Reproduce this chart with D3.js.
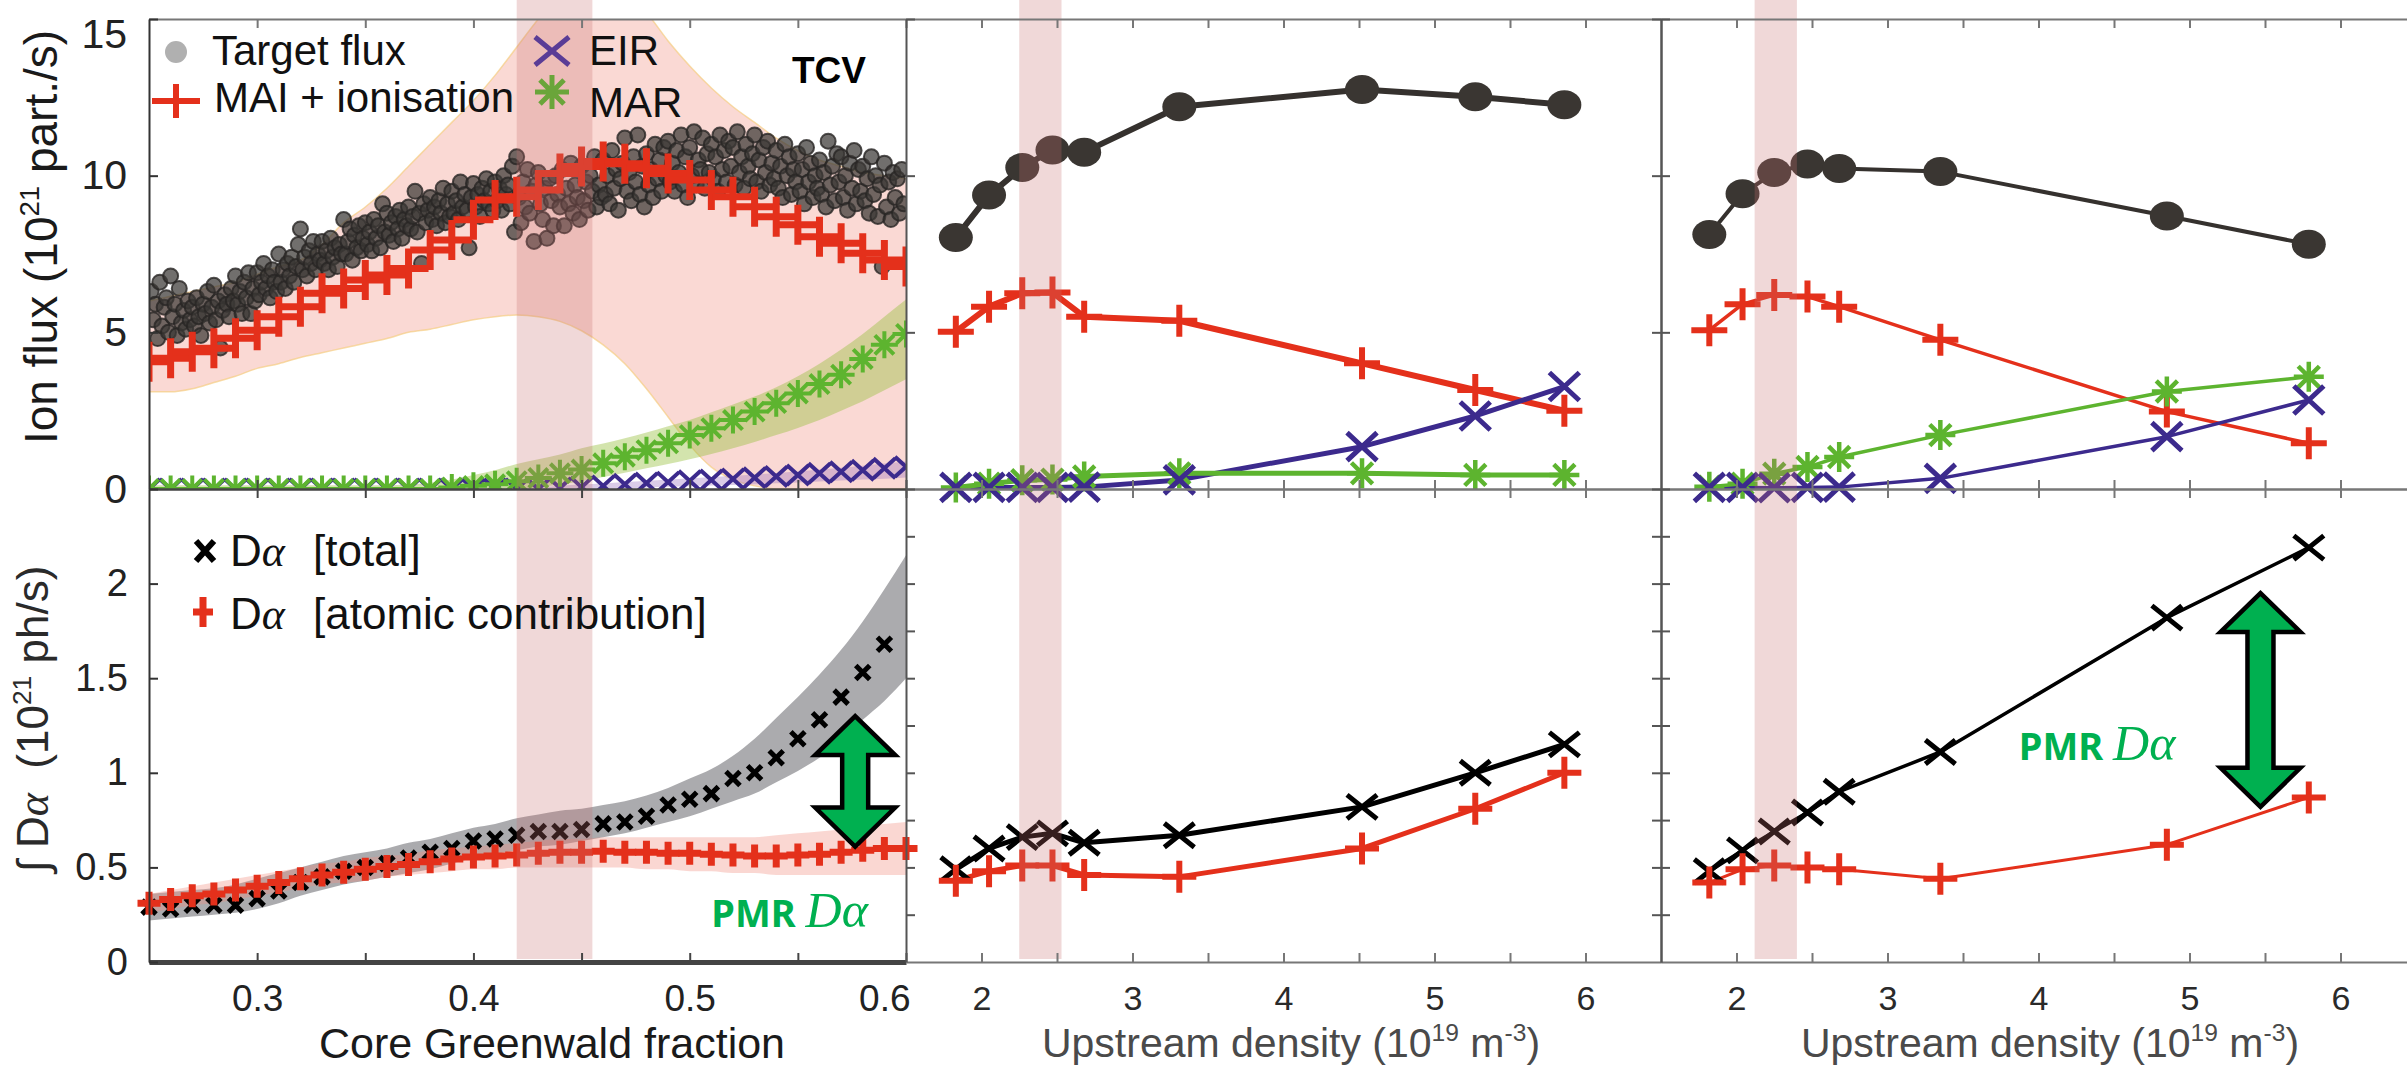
<!DOCTYPE html>
<html>
<head>
<meta charset="utf-8">
<title>Ion flux and D-alpha vs density</title>
<script src="https://cdn.jsdelivr.net/npm/d3@7"></script>
<style>
  html, body { margin: 0; padding: 0; background: #fff; }
  svg { display: block; font-family: "Liberation Sans", Arial, sans-serif; }
  text { white-space: pre; }
</style>
</head>
<body>
<svg width="2407" height="1066"></svg>
<script>
// ---------- left column: scan in core Greenwald fraction ----------
const gwFrac = [0.25,0.26,0.27,0.28,0.29,0.30,0.31,0.32,0.33,0.34,0.35,0.36,0.37,0.38,0.39,0.40,0.41,0.42,
                0.43,0.44,0.45,0.46,0.47,0.48,0.49,0.50,0.51,0.52,0.53,0.54,0.55,0.56,0.57,0.58,0.59,0.60];

const maiIon = [4.06,4.17,4.38,4.49,4.81,5.07,5.5,5.82,6.25,6.4,6.67,6.83,7.04,7.63,7.95,8.59,9.22,9.33,
                9.54,10.07,10.29,10.45,10.38,10.24,10.07,9.86,9.54,9.33,9.01,8.69,8.43,8.05,7.84,7.52,7.31,7.1];
const maiLo = [3.1,3.1,3.2,3.4,3.6,3.85,4.0,4.2,4.35,4.5,4.65,4.8,5.0,5.1,5.25,5.4,5.5,5.55,
               5.5,5.35,5.05,4.6,4.0,3.2,2.3,1.4,0.7,0.3,0.1,0,0,0,0,0,0,0];
const maiHi = [6.0,6.15,6.3,6.45,6.6,6.85,7.1,7.3,7.8,8.5,9.0,9.6,10.3,11.0,11.7,12.4,13.2,14.1,
               15.0,15.8,16.3,16.3,15.8,15.2,14.3,13.5,12.8,12.2,11.7,11.2,10.8,10.5,10.3,10.1,10.0,9.9];

const mar = [0,0,0,0,0,0,0,0,0,0,0,0,0,0,0.05,0.1,0.15,0.25,
             0.35,0.5,0.62,0.82,1.03,1.24,1.46,1.72,1.94,2.2,2.47,2.74,3.05,3.35,3.65,4.15,4.6,4.95];
const marLo = [0,0,0,0,0,0,0,0,0,0,0,0,0,0,0,0,0,0,
               0.05,0.15,0.25,0.38,0.52,0.66,0.8,0.95,1.12,1.3,1.5,1.72,1.95,2.2,2.5,2.8,3.15,3.5];
const marHi = [0.12,0.12,0.12,0.12,0.12,0.12,0.12,0.12,0.12,0.12,0.12,0.12,0.15,0.2,0.3,0.45,0.6,0.8,
               0.95,1.1,1.3,1.45,1.62,1.8,2.0,2.2,2.45,2.7,2.95,3.25,3.6,4.0,4.45,4.95,5.5,6.05];

const eir = [0,0,0,0,0,0,0,0,0,0,0,0,0,0,0,0,0,0,
             0,0.03,0.06,0.1,0.15,0.19,0.22,0.26,0.29,0.32,0.36,0.40,0.45,0.50,0.55,0.60,0.66,0.71];
const eirLo = [0,0,0,0,0,0,0,0,0,0,0,0,0,0,0,0,0,0,
               0,0,0,0,0.02,0.05,0.07,0.09,0.11,0.13,0.15,0.18,0.21,0.24,0.27,0.30,0.33,0.37];
const eirHi = [0.05,0.05,0.05,0.05,0.05,0.05,0.05,0.05,0.05,0.05,0.05,0.05,0.05,0.05,0.05,0.05,0.05,0.05,
               0.05,0.1,0.14,0.18,0.22,0.26,0.30,0.34,0.38,0.42,0.46,0.51,0.56,0.62,0.68,0.74,0.81,0.88];

// measured target flux (Greenwald fraction, 1e21 part/s)
const targetFlux = [
  [0.251,6.3],[0.252,5.4],[0.253,5.9],[0.254,4.8],[0.255,6.6],[0.256,5.2],[0.257,5.8],[0.258,6.1],[0.259,5.0],
  [0.260,6.8],[0.261,5.5],[0.262,5.9],[0.263,4.9],[0.264,6.4],[0.265,5.3],[0.266,5.7],[0.267,5.1],[0.268,6.0],[0.269,5.4],
  [0.270,5.8],[0.271,5.2],[0.272,6.1],[0.273,5.5],[0.274,4.9],[0.275,5.9],[0.276,5.6],[0.277,6.3],[0.278,5.3],[0.279,5.8],
  [0.280,6.5],[0.281,5.4],[0.282,6.0],[0.283,4.5],[0.284,5.7],[0.285,6.2],[0.286,5.9],[0.287,5.5],[0.288,6.4],[0.289,6.0],
  [0.290,6.8],[0.291,5.9],[0.292,6.3],[0.293,5.6],[0.294,6.6],[0.295,6.1],[0.296,6.9],[0.297,5.6],[0.298,6.4],[0.299,6.0],
  [0.300,6.9],[0.301,6.2],[0.302,6.6],[0.303,7.2],[0.304,6.4],[0.305,6.8],[0.306,6.1],[0.307,7.0],[0.308,6.6],[0.309,6.3],
  [0.310,7.5],[0.311,6.6],[0.312,7.0],[0.313,6.4],[0.314,7.2],[0.315,6.8],[0.316,7.4],[0.317,6.6],[0.318,7.1],[0.319,7.8],
  [0.320,8.3],[0.321,7.0],[0.322,7.4],[0.323,6.8],[0.324,7.6],[0.325,7.2],[0.326,7.9],[0.327,7.0],[0.328,7.5],[0.329,7.3],
  [0.330,7.9],[0.331,7.2],[0.332,7.6],[0.333,7.0],[0.334,8.0],[0.335,7.4],[0.336,7.7],[0.337,7.1],[0.338,7.8],[0.339,7.5],
  [0.340,8.6],[0.341,7.5],[0.342,7.9],[0.343,8.3],[0.344,7.3],[0.345,8.1],[0.346,7.7],[0.347,8.4],[0.348,7.6],[0.349,8.0],
  [0.350,8.5],[0.351,7.8],[0.352,8.2],[0.353,7.6],[0.354,8.6],[0.355,8.0],[0.356,8.4],[0.357,7.7],[0.358,9.1],[0.359,8.2],
  [0.360,8.8],[0.361,8.1],[0.362,8.5],[0.363,7.9],[0.364,8.7],[0.365,8.3],[0.366,8.9],[0.367,8.0],[0.368,8.6],[0.369,8.4],
  [0.370,9.0],[0.371,8.3],[0.372,8.7],[0.373,9.5],[0.374,8.2],[0.375,8.8],[0.376,7.2],[0.377,9.1],[0.378,8.5],[0.379,8.9],
  [0.380,9.3],[0.381,8.6],[0.382,9.0],[0.383,8.4],[0.384,9.2],[0.385,8.8],[0.386,9.6],[0.387,8.5],[0.388,9.1],[0.389,8.7],
  [0.390,9.5],[0.391,8.8],[0.392,9.2],[0.393,8.6],[0.394,9.8],[0.395,9.0],[0.396,9.4],[0.397,8.9],[0.398,7.7],[0.399,9.3],
  [0.400,9.75],[0.401,9.0],[0.402,9.4],[0.403,8.7],[0.404,9.6],[0.405,9.2],[0.406,9.9],[0.407,9.1],[0.408,9.5],[0.409,8.9],
  [0.410,9.8],[0.411,9.2],[0.412,9.6],[0.413,8.9],[0.414,10.0],[0.415,9.4],[0.416,9.7],[0.417,9.1],[0.418,10.3],[0.419,8.2],
  [0.420,10.6],[0.421,9.3],[0.422,8.5],[0.423,9.8],[0.424,9.0],[0.425,10.2],[0.426,8.8],[0.427,9.5],[0.428,7.9],[0.429,9.7],
  [0.430,10.1],[0.431,9.1],[0.432,8.6],[0.433,9.6],[0.434,8.0],[0.435,9.9],[0.436,9.2],[0.437,8.4],[0.438,10.0],[0.439,9.4],
  [0.440,9.0],[0.441,10.2],[0.442,8.4],[0.443,9.6],[0.444,9.1],[0.445,10.4],[0.446,8.8],[0.447,9.7],[0.448,9.3],[0.449,8.6],
  [0.450,10.3],[0.451,9.2],[0.452,9.8],[0.453,8.9],[0.454,10.0],[0.455,9.5],[0.456,10.6],[0.457,9.0],[0.458,9.7],[0.459,9.3],
  [0.460,10.5],[0.461,9.4],[0.462,10.0],[0.463,9.1],[0.464,10.8],[0.465,9.6],[0.466,10.2],[0.467,8.9],[0.468,9.9],[0.469,10.4],
  [0.470,11.2],[0.471,9.5],[0.472,10.1],[0.473,9.2],[0.474,10.6],[0.475,9.8],[0.476,11.3],[0.477,9.4],[0.478,10.3],[0.479,9.0],
  [0.480,10.7],[0.481,9.7],[0.482,10.2],[0.483,9.3],[0.484,11.0],[0.485,9.9],[0.486,10.5],[0.487,9.5],[0.488,10.9],[0.489,10.0],
  [0.490,11.1],[0.491,9.8],[0.492,10.4],[0.493,9.5],[0.494,10.8],[0.495,10.1],[0.496,11.3],[0.497,9.7],[0.498,10.6],[0.499,9.3],
  [0.500,10.9],[0.501,10.0],[0.502,11.4],[0.503,9.7],[0.504,10.5],[0.505,10.2],[0.506,11.2],[0.507,9.6],[0.508,10.7],[0.509,10.1],
  [0.510,11.0],[0.511,9.9],[0.512,10.6],[0.513,9.5],[0.514,11.3],[0.515,10.2],[0.516,10.8],[0.517,9.8],[0.518,11.1],[0.519,10.3],
  [0.520,10.9],[0.521,9.7],[0.522,11.4],[0.523,10.1],[0.524,10.6],[0.525,9.6],[0.526,11.0],[0.527,10.3],[0.528,9.9],[0.529,10.7],
  [0.530,11.3],[0.531,9.8],[0.532,10.5],[0.533,9.5],[0.534,10.9],[0.535,10.1],[0.536,11.1],[0.537,9.7],[0.538,10.4],[0.539,9.9],
  [0.540,10.8],[0.541,9.6],[0.542,10.3],[0.543,9.3],[0.544,11.0],[0.545,10.0],[0.546,10.6],[0.547,9.4],[0.548,10.2],[0.549,9.8],
  [0.550,10.7],[0.551,9.5],[0.552,10.2],[0.553,9.1],[0.554,10.9],[0.555,9.8],[0.556,10.4],[0.557,9.3],[0.558,10.0],[0.559,9.6],
  [0.560,10.5],[0.561,9.4],[0.562,10.1],[0.563,9.0],[0.564,11.1],[0.565,9.7],[0.566,10.3],[0.567,9.2],[0.568,10.7],[0.569,9.8],
  [0.570,10.6],[0.571,9.3],[0.572,10.0],[0.573,8.9],[0.574,10.4],[0.575,9.6],[0.576,10.8],[0.577,9.1],[0.578,10.2],[0.579,9.5],
  [0.580,10.3],[0.581,9.2],[0.582,9.9],[0.583,8.8],[0.584,10.6],[0.585,9.4],[0.586,10.0],[0.587,8.7],[0.588,9.7],[0.589,7.1],
  [0.590,10.4],[0.591,9.0],[0.592,9.8],[0.593,8.6],[0.594,10.1],[0.595,9.3],[0.596,9.9],[0.597,8.8],[0.598,10.2],[0.599,9.1]
];

// integrated D-alpha (1e21 ph/s); total has no point at 0.60
const daTotal = [0.29,0.28,0.30,0.30,0.30,0.335,0.375,0.42,0.45,0.48,0.50,0.52,0.55,0.58,0.60,0.64,0.65,0.67,
                 0.69,0.69,0.70,0.73,0.74,0.77,0.83,0.86,0.89,0.97,1.00,1.08,1.18,1.28,1.40,1.53,1.68];
const totLo = [0.22,0.23,0.24,0.25,0.26,0.28,0.31,0.35,0.38,0.41,0.43,0.45,0.47,0.49,0.52,0.55,0.57,0.59,
               0.61,0.62,0.64,0.66,0.68,0.71,0.74,0.77,0.81,0.85,0.89,0.95,1.01,1.08,1.17,1.28,1.38,1.50];
const totHi = [0.36,0.37,0.38,0.39,0.41,0.44,0.47,0.50,0.53,0.56,0.58,0.60,0.63,0.65,0.68,0.71,0.73,0.76,
               0.78,0.80,0.81,0.83,0.85,0.88,0.92,0.97,1.02,1.09,1.18,1.29,1.40,1.52,1.65,1.80,1.97,2.15];
const daAtomic = [0.31,0.33,0.35,0.36,0.38,0.40,0.42,0.44,0.46,0.475,0.49,0.505,0.515,0.53,0.545,0.555,0.56,0.565,
                  0.575,0.58,0.58,0.585,0.58,0.58,0.575,0.575,0.57,0.565,0.56,0.56,0.565,0.57,0.58,0.59,0.60,0.60];
const atomLo = [0.26,0.28,0.30,0.31,0.33,0.35,0.37,0.39,0.41,0.42,0.43,0.45,0.46,0.47,0.48,0.49,0.49,0.50,
                0.50,0.50,0.50,0.50,0.50,0.49,0.49,0.48,0.48,0.47,0.47,0.46,0.46,0.46,0.46,0.46,0.46,0.46];
const atomHi = [0.36,0.38,0.40,0.42,0.44,0.46,0.48,0.50,0.52,0.53,0.55,0.56,0.57,0.59,0.60,0.61,0.62,0.63,
                0.64,0.65,0.65,0.66,0.66,0.66,0.66,0.66,0.66,0.66,0.66,0.67,0.68,0.69,0.70,0.72,0.73,0.74];

// ---------- middle column: upstream density scan A ----------
const nUpA    = [1.83,2.05,2.27,2.47,2.68,3.31,4.52,5.27,5.86];
const fluxA   = [8.03,9.38,10.26,10.82,10.75,12.2,12.75,12.52,12.26];
const maiA    = [5.02,5.82,6.25,6.27,5.5,5.37,4.01,3.16,2.5];
const eirA    = [0.05,0.05,0.05,0.05,0.06,0.29,1.35,2.33,3.27];
const marA    = [0.05,0.17,0.28,0.3,0.4,0.5,0.5,0.45,0.45];
const daTotA  = [0.49,0.60,0.66,0.68,0.63,0.67,0.82,1.0,1.15];
const daAtomA = [0.43,0.48,0.51,0.51,0.46,0.45,0.60,0.81,1.0];

// ---------- right column: upstream density scan B ----------
const nUpB    = [1.82,2.04,2.25,2.47,2.68,3.35,4.85,5.79];
const fluxB   = [8.12,9.42,10.1,10.37,10.23,10.13,8.71,7.81];
const maiB    = [5.07,5.9,6.19,6.14,5.82,4.76,2.47,1.46];
const eirB    = [0.05,0.05,0.04,0.05,0.06,0.34,1.67,2.84];
const marB    = [0.07,0.17,0.49,0.7,1.02,1.72,3.11,3.58];
const daTotB  = [0.48,0.59,0.69,0.79,0.90,1.11,1.82,2.19];
const daAtomB = [0.42,0.49,0.51,0.50,0.49,0.44,0.62,0.87];

// highlighted (roll-over) windows
const bandGw = [0.42, 0.455], bandA = [2.25, 2.53], bandB = [2.12, 2.40];
// PMR arrows: [x, y top, y bottom]
const arrowGw = [0.5765, 1.30, 0.61], arrowB = [5.47, 1.95, 0.82];

// ticks
const gwTicks = [0.3,0.35,0.4,0.45,0.5,0.55,0.6], gwLabels = [0.3,0.4,0.5,0.6];
const upTicks = [2,2.5,3,3.5,4,4.5,5,5.5,6], upLabels = [2,3,4,5,6];
const fluxTicks = [0,5,10,15];
const daTicksGw = [0,0.5,1,1.5,2];
const daTicksUp = [0.25,0.5,0.75,1,1.25,1.5,1.75,2,2.25];

// ---------- scales ----------
const svg = d3.select("svg");
const xGw  = d3.scaleLinear().domain([0.25, 0.6]).range([149, 906]);
const xUpA = d3.scaleLinear().domain([1.5, 6.5]).range([906, 1661]);
const xUpB = d3.scaleLinear().domain([1.5, 6.5]).range([1661, 2416]);
const yFlux = d3.scaleLinear().domain([0, 15]).range([489, 19]);
const yDa   = d3.scaleLinear().domain([0, 2.5]).range([962, 489]);

const RED = "#e4301b", PURPLE = "#3c2a8d", GREEN = "#5db42f", DARK = "#3a3632", ARROW = "#00b050";

// marker shapes
const plus  = (w, h) => `M${-w/2},0H${w/2}M0,${-h/2}V${h/2}`;
const times = (w, h) => `M${-w/2},${-h/2}L${w/2},${h/2}M${-w/2},${h/2}L${w/2},${-h/2}`;
const star  = s => { const r = s / 2, d = r * 0.707;
  return `M0,${-r}V${r}M${-r},0H${r}M${-d},${-d}L${d},${d}M${-d},${d}L${d},${-d}`; };

function markers(g, pts, xs, ys, shape, color, width) {
  g.append("g").selectAll("path").data(pts).join("path")
    .attr("transform", d => `translate(${xs(d[0])},${ys(d[1])})`)
    .attr("d", shape).attr("fill", "none")
    .attr("stroke", color).attr("stroke-width", width);
}
function polyline(g, pts, xs, ys, color, width) {
  g.append("path").datum(pts)
    .attr("d", d3.line().x(d => xs(d[0])).y(d => ys(d[1])))
    .attr("fill", "none").attr("stroke", color).attr("stroke-width", width)
    .attr("stroke-linejoin", "round");
}
function band(g, xsArr, lo, hi, xs, ys, fill, edge) {
  const pts = xsArr.map((x, i) => ({x, lo: lo[i], hi: hi[i]}));
  g.append("path").datum(pts)
    .attr("d", d3.area().x(d => xs(d.x)).y0(d => ys(d.lo)).y1(d => ys(d.hi)).curve(d3.curveMonotoneX))
    .attr("fill", fill);
  if (edge) {
    ["lo", "hi"].forEach(k => g.append("path").datum(pts)
      .attr("d", d3.line().x(d => xs(d.x)).y(d => ys(d[k])).curve(d3.curveMonotoneX))
      .attr("fill", "none").attr("stroke", edge).attr("stroke-width", 1.5));
  }
}
function dblArrow(g, a, xs, ys) {
  const cx = xs(a[0]), t = ys(a[1]), b = ys(a[2]), hh = 39, hw = 40, sw = 13;
  const p = [[cx,t],[cx+hw,t+hh],[cx+sw,t+hh],[cx+sw,b-hh],[cx+hw,b-hh],[cx,b],
             [cx-hw,b-hh],[cx-sw,b-hh],[cx-sw,t+hh],[cx-hw,t+hh]];
  g.append("path").attr("d", "M" + p.join("L") + "Z")
    .attr("fill", ARROW).attr("stroke", "#000").attr("stroke-width", 4.5)
    .attr("stroke-linejoin", "miter");
}
function pmrLabel(g, x, y) {
  const t = g.append("text").attr("x", x).attr("y", y).attr("fill", ARROW);
  t.append("tspan").attr("font-family", "'Noto Sans', 'Open Sans', sans-serif")
    .attr("font-weight", "bold").attr("font-size", 38).text("PMR ");
  t.append("tspan").attr("font-family", "'Liberation Serif', serif")
    .attr("font-style", "italic").attr("font-size", 50).text("Dα");
}
function vband(g, b, xs) {
  g.append("rect").attr("x", xs(b[0])).attr("width", xs(b[1]) - xs(b[0]))
    .attr("y", 0).attr("height", yDa(0) - 3)
    .attr("fill", "rgb(200,112,112)").attr("fill-opacity", 0.27);
}

// ---------- left column ----------
svg.append("defs").append("clipPath").attr("id", "clipGw")
  .append("rect").attr("x", xGw(0.25)).attr("y", yFlux(15))
  .attr("width", xGw(0.6) - xGw(0.25)).attr("height", yFlux(0) - yFlux(15));

const gTop = svg.append("g").attr("clip-path", "url(#clipGw)");
band(gTop, gwFrac, maiLo, maiHi, xGw, yFlux, "rgba(240,140,125,0.33)", "rgba(245,205,130,0.7)");
band(gTop, gwFrac, eirLo, eirHi, xGw, yFlux, "rgba(150,110,190,0.35)");
band(gTop, gwFrac, marLo, marHi, xGw, yFlux, "rgba(150,190,60,0.42)");
gTop.append("g").selectAll("circle").data(targetFlux).join("circle")
  .attr("cx", d => xGw(d[0])).attr("cy", d => yFlux(d[1])).attr("r", 7.5)
  .attr("fill", "rgb(58,55,52)").attr("fill-opacity", 0.72)
  .attr("stroke", "rgb(40,38,36)").attr("stroke-opacity", 0.8).attr("stroke-width", 2);
markers(gTop, d3.zip(gwFrac, maiIon), xGw, yFlux, plus(40, 40), RED, 7);
markers(gTop, d3.zip(gwFrac, eir), xGw, yFlux, times(22, 20), PURPLE, 4);
markers(gTop, d3.zip(gwFrac, mar), xGw, yFlux, star(27), GREEN, 4);

const gBot = svg.append("g");
band(gBot, gwFrac, totLo, totHi, xGw, yDa, "rgba(115,115,120,0.6)");
band(gBot, gwFrac, atomLo, atomHi, xGw, yDa, "rgba(240,140,125,0.35)");
markers(gBot, d3.zip(gwFrac, daTotal), xGw, yDa, times(14, 14), "#000", 5);
markers(gBot, d3.zip(gwFrac, daAtomic), xGw, yDa, plus(23, 23), RED, 7);

// ---------- middle / right columns ----------
function densityPanel(xs, n, flux, mai, eirV, marV, tot, atom, w) {
  const g = svg.append("g");
  polyline(g, d3.zip(n, flux), xs, yFlux, "#35312e", w.flux);
  polyline(g, d3.zip(n, mai), xs, yFlux, RED, w.mai);
  polyline(g, d3.zip(n, eirV), xs, yFlux, PURPLE, w.eir);
  polyline(g, d3.zip(n, marV), xs, yFlux, GREEN, w.mar);
  g.append("g").selectAll("ellipse").data(d3.zip(n, flux)).join("ellipse")
    .attr("cx", d => xs(d[0])).attr("cy", d => yFlux(d[1]))
    .attr("rx", 17).attr("ry", 14.5).attr("fill", DARK);
  markers(g, d3.zip(n, mai), xs, yFlux, plus(36, 32), RED, 6);
  markers(g, d3.zip(n, marV), xs, yFlux, star(30), GREEN, 4.5);
  markers(g, d3.zip(n, eirV), xs, yFlux, times(30, 28), PURPLE, 5);
  polyline(g, d3.zip(n, tot), xs, yDa, "#000", w.tot);
  polyline(g, d3.zip(n, atom), xs, yDa, RED, w.atom);
  markers(g, d3.zip(n, tot), xs, yDa, times(30, 24), "#000", 5);
  markers(g, d3.zip(n, atom), xs, yDa, plus(34, 32), RED, 6);
  return g;
}
densityPanel(xUpA, nUpA, fluxA, maiA, eirA, marA, daTotA, daAtomA,
  {flux: 6, mai: 6, eir: 5, mar: 5, tot: 5, atom: 5});
densityPanel(xUpB, nUpB, fluxB, maiB, eirB, marB, daTotB, daAtomB,
  {flux: 4, mai: 3.5, eir: 3.5, mar: 3.5, tot: 3.5, atom: 3});

// highlight windows on top (tinting what is below)
const gBands = svg.append("g");
vband(gBands, bandGw, xGw);
vband(gBands, bandA, xUpA);
vband(gBands, bandB, xUpB);

// PMR annotations
const gAnn = svg.append("g");
dblArrow(gAnn, arrowGw, xGw, yDa);
dblArrow(gAnn, arrowB, xUpB, yDa);
pmrLabel(gAnn, xGw(0.51), yDa(0.185));
pmrLabel(gAnn, xUpB(3.87), yDa(1.07));

// ---------- axes ----------
function axis(gen, tx, ty, color, opts = {}) {
  const g = svg.append("g").attr("transform", `translate(${tx},${ty})`).call(gen);
  g.attr("font-family", "'Liberation Sans', Arial, sans-serif")
   .attr("font-size", opts.fs || 36);
  g.select(".domain").attr("stroke", color).attr("stroke-width", opts.dw || 2);
  g.selectAll(".tick line").attr("stroke", color).attr("stroke-width", 2);
  g.selectAll(".tick text").attr("fill", opts.tc || "#222");
  return g;
}
const none = () => "";
// left column
axis(d3.axisBottom(xGw).tickValues(gwTicks).tickSize(9).tickSizeOuter(0).tickFormat(none), 0, yFlux(15), "#777");
axis(d3.axisTop(xGw).tickValues(gwTicks).tickSize(9).tickSizeOuter(0).tickFormat(none), 0, yFlux(0), "#444");
axis(d3.axisBottom(xGw).tickValues(gwTicks).tickSize(9).tickSizeOuter(0).tickFormat(none), 0, yDa(2.5), "#444");
const gwBottom = axis(d3.axisBottom(xGw).tickValues(gwTicks).tickSizeInner(-9).tickSizeOuter(0).tickPadding(23)
    .tickFormat(d => gwLabels.includes(d) ? d3.format(".1f")(d) : ""), 0, yDa(0), "#444", {fs: 37, dw: 5});
gwBottom.selectAll(".tick text").filter(d => d === 0.6).attr("text-anchor", "end").attr("x", 4);
const fluxLeft = axis(d3.axisLeft(yFlux).tickValues(fluxTicks).tickSizeInner(-9).tickSizeOuter(0).tickPadding(22),
    xGw(0.25), 0, "#333", {fs: 41});
fluxLeft.selectAll(".tick text").filter(d => d === 15).attr("dy", "0.7em");
axis(d3.axisLeft(yDa).tickValues(daTicksGw).tickSizeInner(-9).tickSizeOuter(0).tickPadding(21).tickFormat(d3.format("~g")),
    xGw(0.25), 0, "#333", {fs: 38});

// density columns
[xUpA, xUpB].forEach(xs => {
  axis(d3.axisBottom(xs).tickValues(upTicks).tickSize(9).tickSizeOuter(0).tickFormat(none), 0, yFlux(15), "#777");
  axis(d3.axisTop(xs).tickValues(upTicks).tickSize(9).tickSizeOuter(0).tickFormat(none), 0, yFlux(0), "#777");
  axis(d3.axisBottom(xs).tickValues(upTicks).tickSize(9).tickSizeOuter(0).tickFormat(none), 0, yDa(2.5), "#777");
  axis(d3.axisBottom(xs).tickValues(upTicks).tickSizeInner(-9).tickSizeOuter(0).tickPadding(24)
      .tickFormat(d => upLabels.includes(d) ? d : ""), 0, yDa(0), "#777", {fs: 34, tc: "#2a2a2a"});
  axis(d3.axisLeft(yFlux).tickValues(fluxTicks).tickSizeInner(-9).tickSizeOuter(0).tickFormat(none), xs(1.5), 0, "#555");
  axis(d3.axisLeft(yDa).tickValues(daTicksUp).tickSizeInner(-9).tickSizeOuter(0).tickFormat(none), xs(1.5), 0, "#555");
});
axis(d3.axisRight(yFlux).tickValues(fluxTicks).tickSizeInner(-9).tickSizeOuter(0).tickFormat(none), xUpA(6.5), 0, "#555");
axis(d3.axisRight(yDa).tickValues(daTicksUp).tickSizeInner(-9).tickSizeOuter(0).tickFormat(none), xUpA(6.5), 0, "#555");

// ---------- titles ----------
const T = svg.append("g").attr("fill", "#1a1a1a");
function supText(g, x, y, parts, size, rot) {
  const t = g.append("text").attr("x", x).attr("y", y).attr("text-anchor", "middle")
    .attr("font-size", size);
  if (rot) t.attr("transform", `rotate(-90,${x},${y})`);
  parts.forEach(p => {
    const s = t.append("tspan").text(p.t);
    if (p.sup) s.attr("font-size", size * 0.6).attr("dy", -size * 0.38);
    if (p.down) s.attr("dy", size * 0.38);
    if (p.serif) s.attr("font-family", "'Liberation Serif', serif").attr("font-style", "italic");
  });
  return t;
}
supText(T, 40, 237, [{t: "Ion flux (10"}, {t: "21", sup: true}, {t: " part./s)", down: true}], 46, true)
  .attr("dy", "0.36em");
supText(T, 32, 719, [{t: "∫ D"}, {t: "α", serif: true}, {t: "  (10"}, {t: "21", sup: true}, {t: " ph/s)", down: true}], 44, true)
  .attr("dy", "0.36em").attr("fill", "#2a2a2a");
supText(T, 552, 1058, [{t: "Core Greenwald fraction"}], 43);
[[xUpA, 1291], [xUpB, 2050]].forEach(([xs, cx]) => {
  supText(T, cx, 1057, [{t: "Upstream density (10"}, {t: "19", sup: true}, {t: " m", down: true},
    {t: "-3", sup: true}, {t: ")", down: true}], 41).attr("fill", "#4a4a4a");
});

// ---------- legends ----------
const L = svg.append("g").attr("font-size", 42).attr("fill", "#111");
L.append("circle").attr("cx", 176).attr("cy", 52).attr("r", 11).attr("fill", "#b0b0b0");
L.append("text").attr("x", 212).attr("y", 65).text("Target flux");
L.append("path").attr("transform", "translate(176,101)").attr("d", plus(48, 34))
  .attr("stroke", RED).attr("stroke-width", 6).attr("fill", "none");
L.append("text").attr("x", 214).attr("y", 112).text("MAI + ionisation");
L.append("path").attr("transform", "translate(552,51)").attr("d", times(34, 28))
  .attr("stroke", "#5a3c96").attr("stroke-width", 5).attr("fill", "none");
L.append("text").attr("x", 589).attr("y", 65).text("EIR");
L.append("path").attr("transform", "translate(552,92)").attr("d", star(34))
  .attr("stroke", "#6aa53a").attr("stroke-width", 5).attr("fill", "none");
L.append("text").attr("x", 589).attr("y", 117).text("MAR");
L.append("text").attr("x", 792).attr("y", 83).attr("font-weight", "bold").attr("font-size", 37)
  .attr("fill", "#000").text("TCV");

const L2 = svg.append("g").attr("font-size", 44).attr("fill", "#111");
L2.append("path").attr("transform", "translate(205,551)").attr("d", times(18, 20))
  .attr("stroke", "#000").attr("stroke-width", 6).attr("fill", "none");
L2.append("path").attr("transform", "translate(203,612)").attr("d", plus(20, 30))
  .attr("stroke", RED).attr("stroke-width", 7).attr("fill", "none");
[[566, "[total]"], [629, "[atomic contribution]"]].forEach(([y, s]) => {
  const t = L2.append("text").attr("x", 230).attr("y", y);
  t.append("tspan").text("D");
  t.append("tspan").attr("font-family", "'Liberation Serif', serif").attr("font-style", "italic").text("α");
  L2.append("text").attr("x", 313).attr("y", y).text(s);
});
</script>
</body>
</html>
